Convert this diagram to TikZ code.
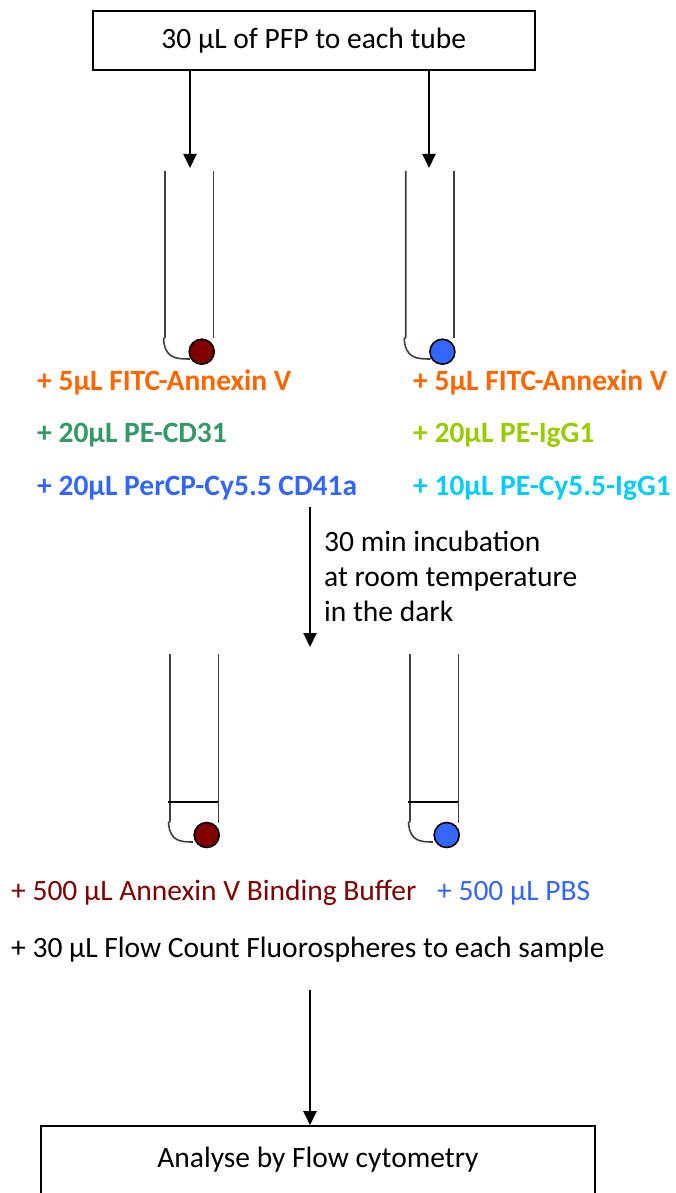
\documentclass[tikz,border=0pt]{standalone}
\usepackage{fontspec}
\setmainfont{Carlito}
\usetikzlibrary{arrows.meta}

\definecolor{fitc}{HTML}{FF6600}
\definecolor{pecd}{HTML}{339966}
\definecolor{peigg}{HTML}{99CC00}
\definecolor{percp}{HTML}{3366FF}
\definecolor{cyigg}{HTML}{00CCFF}
\definecolor{samplered}{HTML}{800000}
\definecolor{sampleblue}{HTML}{3366FF}
\definecolor{tubegray}{HTML}{404040}

\tikzset{
  txt/.style={anchor=base west, inner sep=0pt, font=\fontsize{29.5}{35}\selectfont},
  reagent/.style={txt, font=\fontsize{29.5}{35}\selectfont\bfseries},
  stepbox/.style={draw, line width=1.6pt, inner sep=0pt, font=\fontsize{29.5}{35}\selectfont},
  flow/.style={line width=2pt, ->},
  tube/.style={tubegray, line width=1.6pt},
  ball/.style={draw=black, line width=1.6pt}
}

\begin{document}
\begin{tikzpicture}[x=1pt,y=-1pt,>={Triangle[length=14pt,width=13pt]}]

  \clip (0,0) rectangle (675,1193);

  \begin{scope}   % PFP box and the two tubes

    \node[stepbox, minimum width=442pt, minimum height=59pt] (pfp) at (313.8,40.5)
         {30 μL of PFP to each tube};

    \coordinate (inA) at (190,168);
    \coordinate (inB) at (429,168);
    \draw[flow] (pfp.south -| inA)--(inA);
    \draw[flow] (pfp.south -| inB)--(inB);

    \foreach \L/\col in {165/samplered,405.7/sampleblue}
    {
      \draw[tube] (\L,171)--(\L,337)--(\L-1.5,339)
            .. controls (\L,358) and (\L+10,359) .. (\L+25,359);
      \draw[tube] (\L+48.5,171)--(\L+48.5,338);
      \draw[ball, fill=\col] (\L+36.7,351.7) circle[radius=12.5pt];
    }

    \node[reagent, fitc ] (fitcA)  at (37,390)  {+ 5µL FITC-Annexin V};
    \node[reagent, pecd ] (cdA)    at (37,442)  {+ 20µL PE-CD31};
    \node[reagent, percp] (percpA) at (37,495)  {+ 20µL PerCP-Cy5.5 CD41a};
    \node[reagent, fitc ] (fitcB)  at (413,390) {+ 5µL FITC-Annexin V};
    \node[reagent, peigg] (iggB)   at (413,442) {+ 20µL PE-IgG1};
    \node[reagent, cyigg] (cyB)    at (413,495) {+ 10µL PE-Cy5.5-IgG1};

  \end{scope}

  \begin{scope}   % incubation

    \coordinate (incTop) at (310,507);
    \coordinate (incEnd) at (310,647);
    \draw[flow] (incTop)--(incEnd);

    \node[txt] (incA) at (324,551) {30 min incubation};
    \node[txt] (incB) at (324,586) {at room temperature};
    \node[txt] (incC) at (324,621) {in the dark};

  \end{scope}

  \begin{scope}   % tubes after incubation, buffer and beads

    \foreach \L/\col in {170/samplered,410/sampleblue}
    {
      \draw[tube] (\L,654)--(\L,821)--(\L-1.5,823)
            .. controls (\L,841) and (\L+10,842) .. (\L+23,842);
      \draw[tube] (\L+48.5,654)--(\L+48.5,823);
      \draw[line width=1.6pt] (\L-2.5,802)--(\L+47.5,802);
      \draw[ball, fill=\col] (\L+36.7,835) circle[radius=12.5pt];
    }

    \node[txt, samplered ] (buffer) at (11,900)  {+ 500 μL Annexin V Binding Buffer};
    \node[txt, sampleblue] (pbs)    at (437,900) {+ 500 μL PBS};
    \node[txt] (beads) at (11,957) {+ 30 μL Flow Count Fluorospheres to each sample};

  \end{scope}

  \begin{scope}   % analysis

    \node[stepbox, minimum width=554pt, minimum height=68pt] (analyse) at (318,1160)
         {Analyse by Flow cytometry};

    \coordinate (flowTop) at (310,990);
    \draw[flow] (flowTop)--(analyse.north -| flowTop);

  \end{scope}

\end{tikzpicture}
\end{document}
